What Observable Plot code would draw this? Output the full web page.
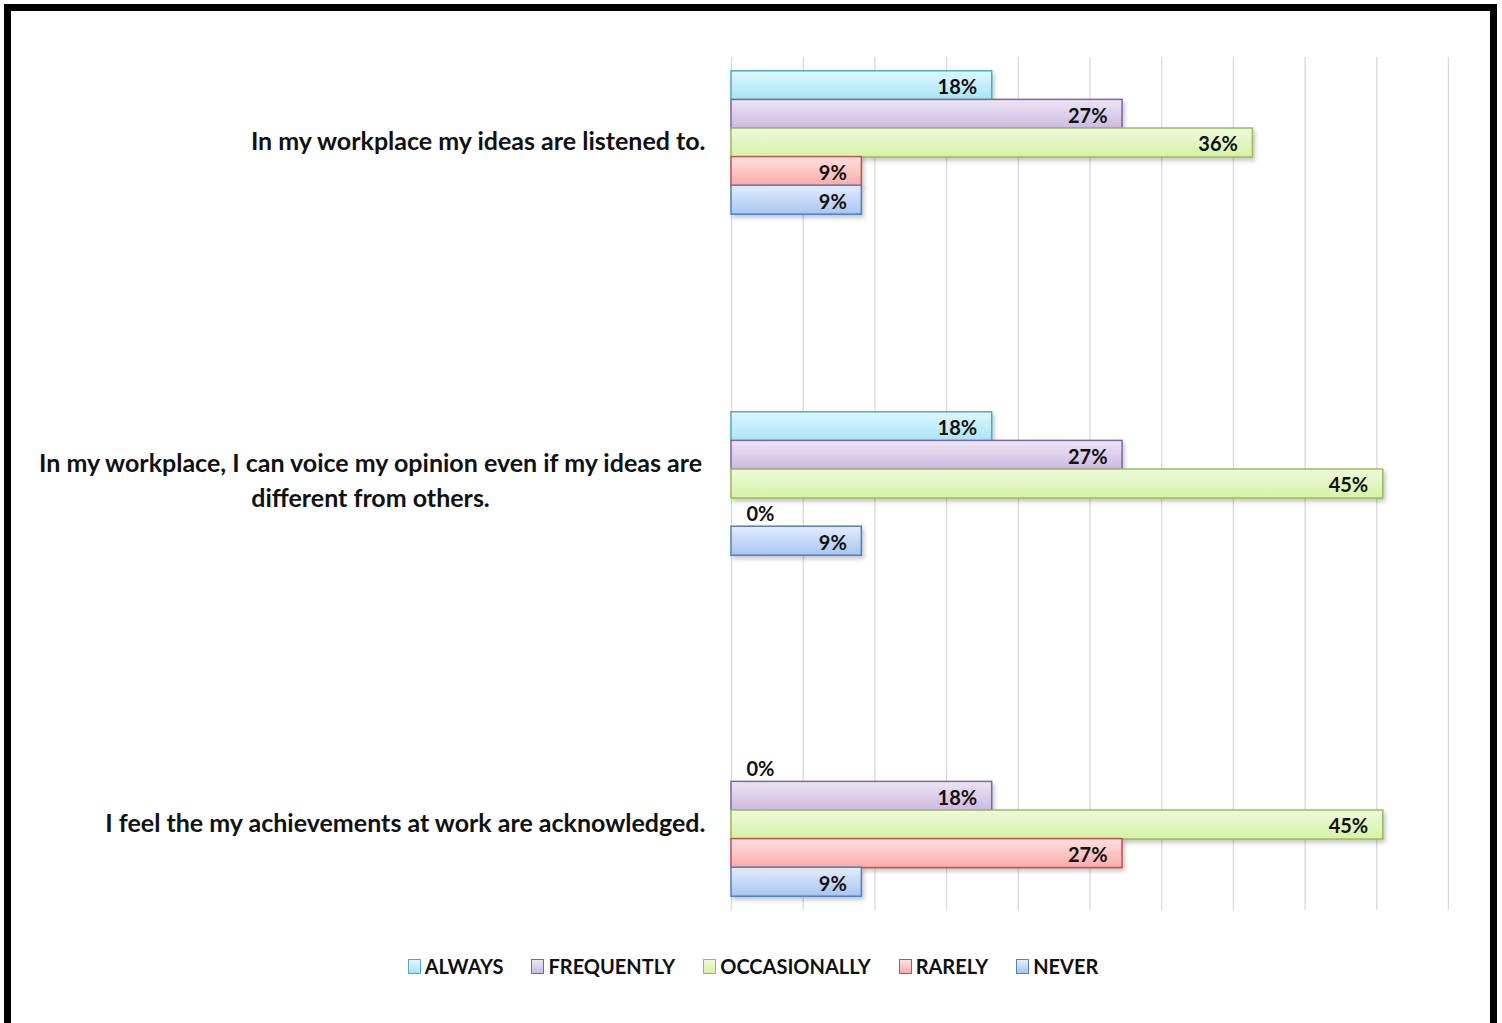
<!DOCTYPE html>
<html>
<head>
<meta charset="utf-8">
<script src="https://cdn.jsdelivr.net/npm/d3@7"></script>
<script src="https://cdn.jsdelivr.net/npm/@observablehq/plot@0.6"></script>
<style>
  html, body { margin: 0; padding: 0; background: #fff; overflow: hidden; width: 1502px; height: 1023px; }
  #frame { position: absolute; left: 4px; top: 4px; width: 1479px; height: 1040px; border: 7px solid #000; box-sizing: content-box; }
  #chart { position: absolute; left: 0; top: 0; }
  #legend { position: absolute; left: 0; top: 954px; width: 1502px; display: flex; justify-content: center; gap: 28px;
            font-family: Lato, "Open Sans", sans-serif; font-weight: bold; font-size: 20px; color: #111; padding-left: 2px; }
  .item { display: flex; align-items: center; gap: 4px; }
  .sw { width: 11px; height: 13px; border: 1.5px solid; box-sizing: content-box; }
</style>
</head>
<body>
<div id="frame"></div>
<div id="chart"></div>
<div id="legend"></div>
<script>
// ---- data ----
const questions = [
  "In my workplace my ideas are listened to.",
  "In my workplace, I can voice my opinion even if my ideas are\ndifferent from others.",
  "I feel the my achievements at work are acknowledged."
];
const categories = ["ALWAYS", "FREQUENTLY", "OCCASIONALLY", "RARELY", "NEVER"];
const always       = [18.18, 18.18, 0];
const frequently   = [27.27, 27.27, 18.18];
const occasionally = [36.36, 45.45, 45.45];
const rarely       = [9.09, 0, 27.27];
const never        = [9.09, 9.09, 9.09];
const xTicks = [0, 5, 10, 15, 20, 25, 30, 35, 40, 45, 50];

const strokeColors = ["#4bacc6", "#8064a2", "#9bbb59", "#c0504d", "#4f81bd"];
const topColors    = ["#dff7fe", "#ece5f5", "#eefadb", "#ffe1e0", "#e3ecfc"];
const bottomColors = ["#a8e4f5", "#cbb9e0", "#d6f2a6", "#f9abaa", "#a9c5f2"];

const series = [always, frequently, occasionally, rarely, never];
const rows = [];
questions.forEach((q, qi) => categories.forEach((c, ci) => rows.push({question: q, category: c, ci, value: series[ci][qi]})));

// ---- layout ----
const W = 1502, H = 930, mTop = 57, mBottom = H - 910;
const pInner = 0.5;
const step = (H - mTop - mBottom) / (questions.length - pInner);
const bandW = step * (1 - pInner);
const barH = 28.6;
const groupH = barH * categories.length;
const pad0 = (bandW - groupH) / 2;

const marks = [
  Plot.ruleX(xTicks, {stroke: "#d9d9d9", strokeWidth: 1.3})
];
categories.forEach((c, ci) => {
  const data = rows.filter(d => d.category === c);
  const offset = -groupH / 2 + barH * (ci + 0.5);
  marks.push(Plot.barX(data, {
    x: "value", y: "question",
    fill: `url(#grad${ci})`, stroke: strokeColors[ci], strokeWidth: 1.5,
    insetTop: pad0 + ci * barH, insetBottom: pad0 + (categories.length - 1 - ci) * barH,
    className: "bar"
  }));
  marks.push(Plot.text(data.filter(d => d.value > 0), {
    x: "value", y: "question", text: d => Math.round(d.value) + "%",
    textAnchor: "end", dx: -15, dy: offset + 2,
    fontSize: 20, fontWeight: "bold", fill: "#111"
  }));
  marks.push(Plot.text(data.filter(d => d.value === 0), {
    x: "value", y: "question", text: d => Math.round(d.value) + "%",
    textAnchor: "start", dx: 15, dy: offset + 2,
    fontSize: 20, fontWeight: "bold", fill: "#111"
  }));
});
// question labels
marks.push(Plot.text(questions.filter(q => !q.includes("\n")), {
  x: () => 0, y: d => d, text: d => d, textAnchor: "end", dx: -26, dy: -1,
  fontSize: 25, fontWeight: "bold", fill: "#111"
}));
marks.push(Plot.text(questions.filter(q => q.includes("\n")), {
  x: () => 0, y: d => d, text: d => d, textAnchor: "middle", dx: -361, dy: -6, lineHeight: 1.4,
  fontSize: 25, fontWeight: "bold", fill: "#111"
}));

const chart = Plot.plot({
  width: W, height: H,
  marginLeft: 731, marginRight: W - 1448, marginTop: mTop, marginBottom: mBottom,
  style: {fontFamily: "Lato, 'Open Sans', sans-serif", background: "transparent", overflow: "visible"},
  x: {domain: [0, 50], axis: null},
  y: {domain: questions, axis: null, paddingInner: pInner, paddingOuter: 0},
  marks
});

// gradients
const svg = d3.select(chart);
const defs = svg.insert("defs", ":first-child");
categories.forEach((c, ci) => {
  const g = defs.append("linearGradient").attr("id", "grad" + ci).attr("x1", 0).attr("y1", 0).attr("x2", 0).attr("y2", 1);
  g.append("stop").attr("offset", "0%").attr("stop-color", topColors[ci]);
  g.append("stop").attr("offset", "100%").attr("stop-color", bottomColors[ci]);
});
svg.selectAll(".bar rect").style("filter", "drop-shadow(2px 3px 2px rgba(0,0,0,0.22))");
document.getElementById("chart").appendChild(chart);

// legend
const legend = d3.select("#legend");
categories.forEach((c, ci) => {
  const it = legend.append("div").attr("class", "item");
  it.append("div").attr("class", "sw")
    .style("border-color", strokeColors[ci])
    .style("background", `linear-gradient(${topColors[ci]}, ${bottomColors[ci]})`);
  it.append("span").text(c);
});
</script>
</body>
</html>
